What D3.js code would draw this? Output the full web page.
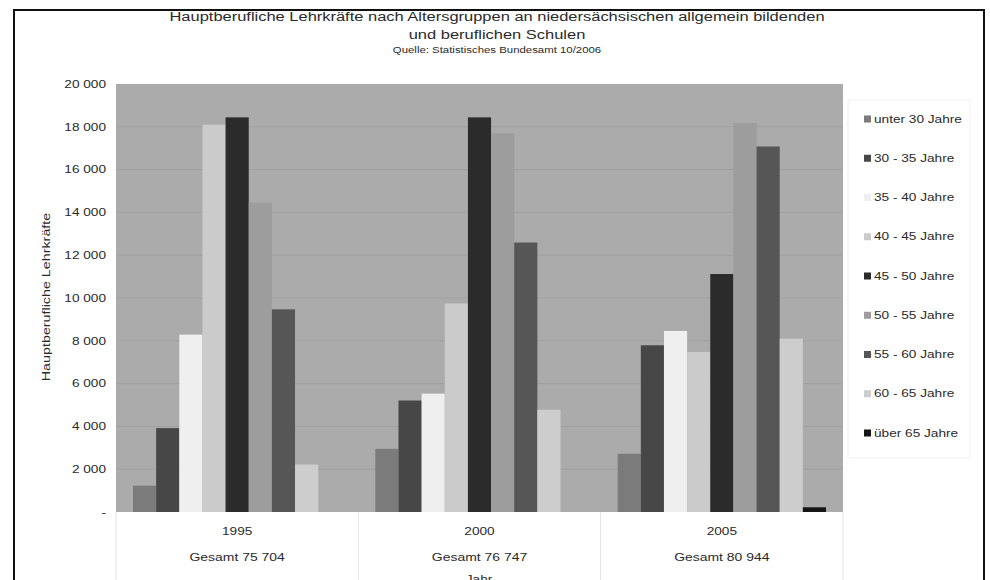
<!DOCTYPE html>
<html>
<head>
<meta charset="utf-8">
<script src="https://cdn.jsdelivr.net/npm/d3@7"></script>
<style>
  body { margin: 0; background: #fff; }
  text { font-family: "Liberation Sans", Arial, sans-serif; fill: #2a2a2a; }
</style>
</head>
<body>
<svg id="chart" width="990" height="580"></svg>
<script>
// data
var years = ["1995", "2000", "2005"];
var totals = ["Gesamt 75 704", "Gesamt 76 747", "Gesamt 80 944"];
var ageGroups = ["unter 30 Jahre", "30 - 35 Jahre", "35 - 40 Jahre", "40 - 45 Jahre",
  "45 - 50 Jahre", "50 - 55 Jahre", "55 - 60 Jahre", "60 - 65 Jahre", "über 65 Jahre"];
var values1995 = [1230, 3920, 8290, 18100, 18440, 14450, 9470, 2220, 0];
var values2000 = [2950, 5210, 5530, 9740, 18440, 17700, 12590, 4780, 0];
var values2005 = [2720, 7790, 8460, 7480, 11120, 18170, 17080, 8100, 220];
var yTicks = [0, 2000, 4000, 6000, 8000, 10000, 12000, 14000, 16000, 18000, 20000];
var colors = ["#7b7b7b", "#474747", "#efefef", "#cbcbcb", "#2b2b2b", "#9d9d9d", "#565656", "#cdcdcd", "#151515"];

var valuesByYear = [values1995, values2000, values2005];

var svg = d3.select("#chart");
var pL = 116, pR = 843, pT = 84, pB = 512;

// text in the original is drawn wide, so stretch it a bit
function label(g, x, y, str, size, sx, anchor, rot) {
  var t = g.append("text")
    .attr("transform", "translate(" + x + "," + y + ")" + (rot ? " rotate(" + rot + ")" : "") + " scale(" + sx + ",1)")
    .attr("font-size", size)
    .attr("text-anchor", anchor || "start")
    .text(str);
  return t;
}

// outer frame
svg.append("rect").attr("x", 14).attr("y", 10).attr("width", 970).attr("height", 600)
  .attr("fill", "#fff").attr("stroke", "#111").attr("stroke-width", 2);

var x0 = d3.scaleBand().domain(years).range([pL, pR]);
var x1 = d3.scaleBand().domain(ageGroups).range([17, x0.bandwidth() - 17]);
var y = d3.scaleLinear().domain([0, 20000]).range([pB, pT]);

// plot background
svg.append("rect").attr("x", pL).attr("y", pT).attr("width", pR - pL).attr("height", pB - pT)
  .attr("fill", "#ababab");

// grid
svg.append("g").selectAll("line").data(yTicks.slice(1, -1)).join("line")
  .attr("x1", pL).attr("x2", pR)
  .attr("y1", function(d) { return y(d); }).attr("y2", function(d) { return y(d); })
  .attr("stroke", "#a1a1a1").attr("stroke-width", 1);

// bars
var groups = svg.append("g").selectAll("g").data(years).join("g")
  .attr("transform", function(d) { return "translate(" + x0(d) + ",0)"; });
groups.selectAll("rect").data(function(d, i) {
    return valuesByYear[i].map(function(v, j) { return { key: ageGroups[j], value: v, c: colors[j] }; });
  }).join("rect")
  .attr("x", function(d) { return x1(d.key); })
  .attr("width", x1.bandwidth())
  .attr("y", function(d) { return y(d.value); })
  .attr("height", function(d) { return pB - y(d.value); })
  .attr("fill", function(d) { return d.c; });

// y axis
var loc = d3.formatLocale({ decimal: ",", thousands: "\u00a0", grouping: [3], currency: ["", " €"] });
var fmt = loc.format(",d");
var yAxis = d3.axisLeft(y).tickValues(yTicks).tickSize(0).tickPadding(10)
  .tickFormat(function(d) { return d === 0 ? "-" : fmt(d); });
var ya = svg.append("g").attr("transform", "translate(" + pL + ",0)").call(yAxis);
ya.select(".domain").remove();
ya.selectAll("text").attr("font-size", 10.5).attr("fill", "#333")
  .attr("font-family", "Liberation Sans, Arial, sans-serif")
  .attr("transform", "translate(-10,0) scale(1.3,1) translate(10,0)");

label(svg, 50, 297, "Hauptberufliche Lehrkräfte", 11, 1.3, "middle", -90);

// category table below plot
var seps = years.map(function(d) { return x0(d); }).concat([pR]);
svg.append("g").selectAll("line").data(seps).join("line")
  .attr("x1", function(d) { return d; }).attr("x2", function(d) { return d; })
  .attr("y1", pB).attr("y2", 580).attr("stroke", "#e2e2e2");

var cat = svg.append("g");
years.forEach(function(d, i) {
  var cx = x0(d) + x0.bandwidth() / 2;
  label(cat, cx, 535, d, 10.5, 1.3, "middle");
  label(cat, cx, 561, totals[i], 10.5, 1.33, "middle");
});
label(svg, 479, 583, "Jahr", 10.5, 1.3, "middle");

// titles
label(svg, 497, 21, "Hauptberufliche Lehrkräfte nach Altersgruppen an niedersächsischen allgemein bildenden", 13.5, 1.22, "middle");
label(svg, 497, 39, "und beruflichen Schulen", 13.5, 1.22, "middle");
label(svg, 497, 53, "Quelle: Statistisches Bundesamt 10/2006", 9.5, 1.2, "middle");

// legend
svg.append("rect").attr("x", 848).attr("y", 100).attr("width", 122).attr("height", 358)
  .attr("fill", "#fff").attr("stroke", "#f0f0f0");
var ly = d3.scalePoint().domain(ageGroups).range([119, 433]);
var li = svg.append("g").selectAll("g").data(ageGroups).join("g")
  .attr("transform", function(d) { return "translate(864," + ly(d) + ")"; });
li.append("rect").attr("x", 0).attr("y", -3.5).attr("width", 7).attr("height", 7)
  .attr("fill", function(d, i) { return colors[i]; });
li.each(function(d) { label(d3.select(this), 10, 3.5, d, 10.5, 1.3, "start"); });
</script>
</body>
</html>
